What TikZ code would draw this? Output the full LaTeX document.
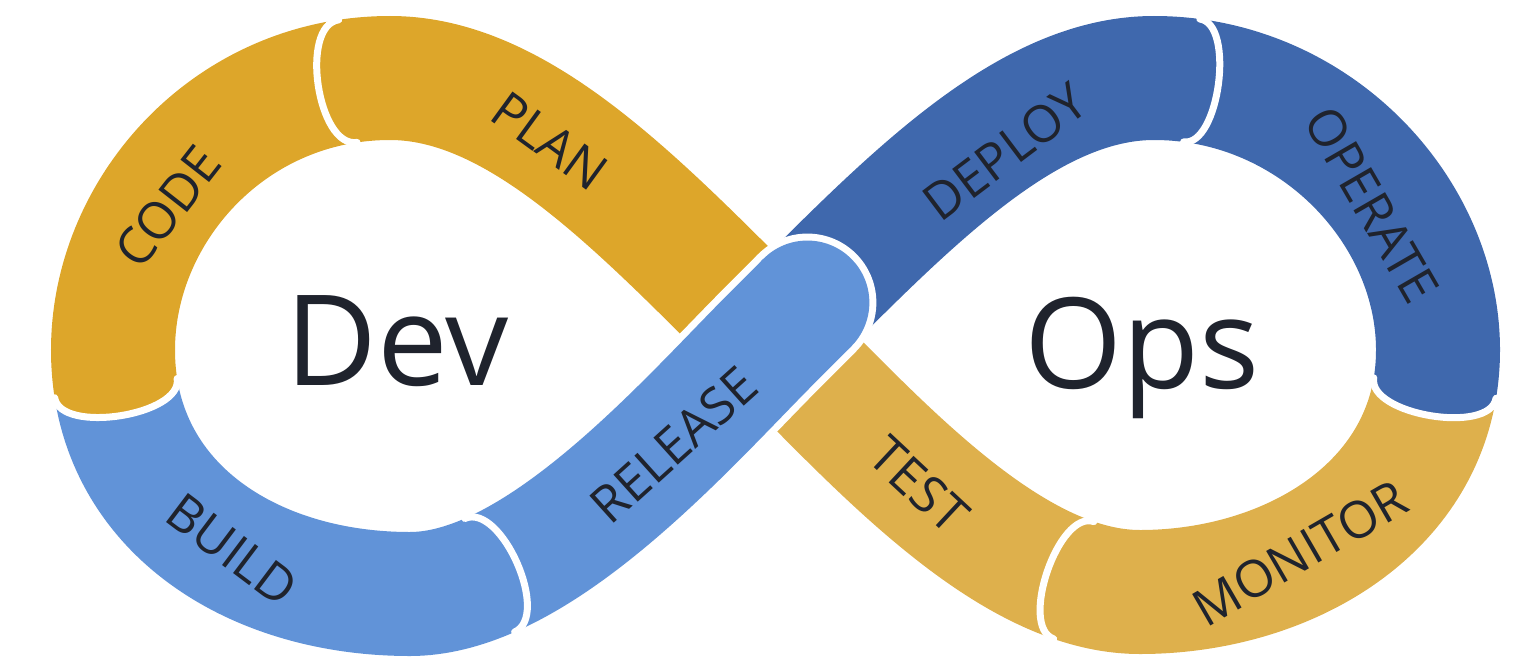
\documentclass[tikz,border=0pt]{standalone}
\usepackage{fontspec}
\setmainfont{Open Sans}
\usetikzlibrary{calc}
\definecolor{gA}{RGB}{221,166,42}
\definecolor{gB}{RGB}{222,176,76}
\definecolor{bA}{RGB}{97,147,216}
\definecolor{bB}{RGB}{63,104,173}
\definecolor{ink}{RGB}{31,35,45}
\newcommand\bandW{124pt}
\newcommand\bandWW{138pt}
\newcommand\pcs[3]{\pgfpathcurvebetweentime{#2}{#3}{\pgfpointanchor{#1a}{center}}{\pgfpointanchor{#1b}{center}}{\pgfpointanchor{#1c}{center}}{\pgfpointanchor{#1d}{center}}}
\newcommand\pcc[3]{\pgfpathcurvebetweentimecontinue{#2}{#3}{\pgfpointanchor{#1a}{center}}{\pgfpointanchor{#1b}{center}}{\pgfpointanchor{#1c}{center}}{\pgfpointanchor{#1d}{center}}}
\newcommand\band[3]{\begin{pgfscope}\pgfsetlinewidth{#2}\pgfsetbuttcap\pgfsetstrokecolor{#1}#3\pgfusepath{stroke}\end{pgfscope}}
\newcommand\capf[2]{%
  \fill[#2] ($(#1.north)!-0.06!(#1.north east)$) -- (#1.north) .. controls ($(#1.north)!1.333!(#1.north east)$) and ($(#1.south)!1.333!(#1.south east)$) .. (#1.south) -- ($(#1.south)!-0.06!(#1.south east)$) -- cycle;
  \draw[white, line width=7pt, line cap=round] (#1.north) .. controls ($(#1.north)!1.333!(#1.north east)$) and ($(#1.south)!1.333!(#1.south east)$) .. (#1.south);}
\tikzset{
  jn/.style={rectangle, inner sep=0pt, outer sep=0pt, sloped, allow upside down, minimum height=124pt, draw=none},
  lbl/.style={font=\fontsize{51}{51}\selectfont, text=ink, inner sep=0pt},
  big/.style={font=\fontsize{126}{126}\selectfont, text=ink, inner sep=0pt, anchor=base}
}
\begin{document}
\begin{tikzpicture}[x=1pt,y=-1pt]
\useasboundingbox (0,0) rectangle (1523,664);
% centre line of the loop, eight Bezier pieces
\coordinate (Aa) at (772,338); \coordinate (Ab) at (640,206); \coordinate (Ac) at (520,78); \coordinate (Ad) at (390,78);
\coordinate (Ba) at (390,78); \coordinate (Bb) at (230,78); \coordinate (Bc) at (113,210); \coordinate (Bd) at (113,350);
\coordinate (Ca) at (113,350); \coordinate (Cb) at (113,505); \coordinate (Cc) at (250,594); \coordinate (Cd) at (410,594);
\coordinate (Da) at (410,594); \coordinate (Db) at (540,594); \coordinate (Dc) at (690,420); \coordinate (Dd) at (772,338);
\coordinate (Ea) at (772,338); \coordinate (Eb) at (904,206); \coordinate (Ec) at (1024,78); \coordinate (Ed) at (1154,78);
\coordinate (Fa) at (1154,78); \coordinate (Fb) at (1314,78); \coordinate (Fc) at (1438,210); \coordinate (Fd) at (1438,350);
\coordinate (Ga) at (1438,350); \coordinate (Gb) at (1438,505); \coordinate (Gc) at (1290,592); \coordinate (Gd) at (1140,592);
\coordinate (Ha) at (1140,592); \coordinate (Hb) at (1010,592); \coordinate (Hc) at (880,446); \coordinate (Hd) at (772,338);
% junctions
\path (Ba) .. controls (Bb) and (Bc) .. (Bd) node[jn, pos=0.09, minimum width=60pt] (jCP) {};
\path (Ca) .. controls (Cb) and (Cc) .. (Cd) node[jn, pos=0.085, minimum width=56pt] (jCB) {};
\path (Da) .. controls (Db) and (Dc) .. (Dd) node[jn, pos=0.2, minimum width=60pt] (jBR) {};
\path (Ea) .. controls (Eb) and (Ec) .. (Ed) coordinate[pos=0.09] (jE);
\path (Fa) .. controls (Fb) and (Fc) .. (Fd) node[jn, pos=0.08, minimum width=54pt] (jDO) {};
\path (Ga) .. controls (Gb) and (Gc) .. (Gd) node[jn, pos=0.085, minimum width=56pt] (jOM) {};
\path (Ha) .. controls (Hb) and (Hc) .. (Hd) node[jn, pos=0.17, minimum width=56pt] (jMT) {};
% bands
\band{gA}{\bandW}{\pcs{A}{0}{1}\pcc{B}{0}{0.09}}
\band{gA}{\bandW}{\pcs{B}{0.09}{1}\pcc{C}{0}{0.085}}
\band{bA}{\bandW}{\pcs{C}{0.085}{1}\pcc{D}{0}{0.2}}
\band{gB}{\bandW}{\pcs{H}{0.17}{1}}
\band{gB}{\bandW}{\pcs{G}{0.085}{1}\pcc{H}{0}{0.17}}
\band{bB}{\bandW}{\pcs{F}{0.08}{1}\pcc{G}{0}{0.085}}
\band{bB}{\bandW}{\pcs{E}{0}{1}\pcc{F}{0}{0.08}}
% release over the crossing
\band{white}{\bandWW}{\pcs{D}{0.2}{1}\pcc{E}{0}{0.09}}
\fill[white] (jE) circle[radius=69pt];
\band{bA}{\bandW}{\pcs{D}{0.2}{1}\pcc{E}{0}{0.09}}
\fill[bA] (jE) circle[radius=62pt];
% caps
\capf{jCP}{gA}
\capf{jCB}{gA}
\capf{jBR}{bA}
\capf{jDO}{bB}
\capf{jOM}{bB}
\capf{jMT}{gB}
% labels
\node[lbl, rotate=52] (tCODE) at (168,207) {CODE};
\node[lbl, rotate=-36] (tPLAN) at (550,141) {PLAN};
\node[lbl, rotate=-37] (tBUILD) at (232,550) {BUILD};
\node[lbl, rotate=42] (tREL) at (674,445) {RELEASE};
\node[lbl, rotate=37] (tDEP) at (1005,152) {DEPLOY};
\node[lbl, rotate=-60] (tOPE) at (1372,205) {OPERATE};
\node[lbl, rotate=-43] (tTEST) at (919,485) {TEST};
\node[lbl, rotate=30] (tMON) at (1300,553) {MONITOR};
\node[big] (tDev) at (397,385) {Dev};
\node[big] (tOps) at (1142,388) {Ops};
\end{tikzpicture}
\end{document}
